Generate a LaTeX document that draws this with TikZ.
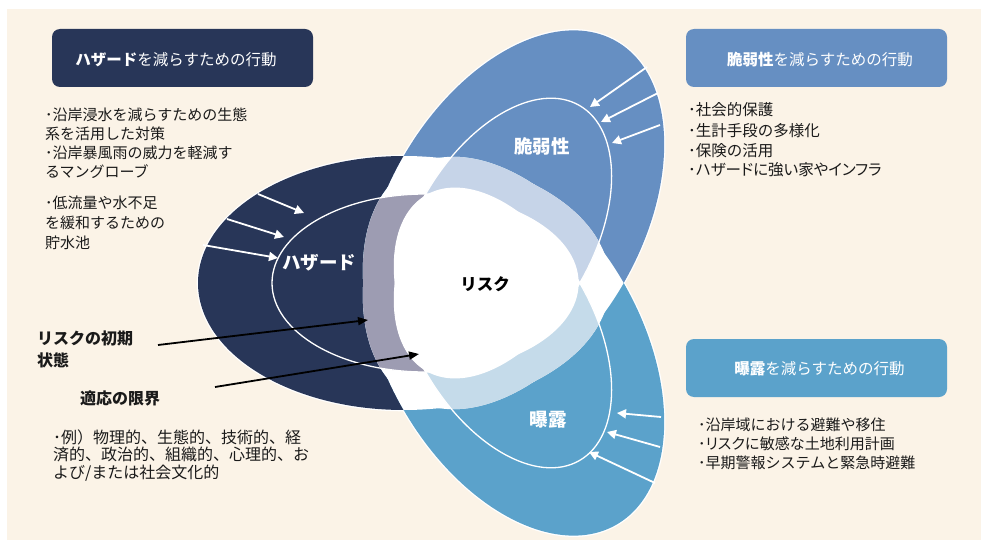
\documentclass[tikz,border=0pt]{standalone}
\usepackage{fontspec}
\setmainfont{Noto Sans CJK JP}
\newfontfamily\jpprop[RawFeature=+palt]{Noto Sans CJK JP}
\usetikzlibrary{arrows.meta}
\definecolor{cream}{HTML}{FBF3E7}
\definecolor{hazc}{HTML}{283658}
\definecolor{vulc}{HTML}{668FC2}
\definecolor{expc}{HTML}{5BA2CB}
\definecolor{hazt}{HTML}{9D9CB2}
\definecolor{vult}{HTML}{C6D4E8}
\definecolor{expt}{HTML}{C5DBEA}
\definecolor{txt}{HTML}{1A1A1A}
\def\Oel{(0,0) ellipse [x radius=206pt, y radius=127pt]}
\def\Iel{(0,0) ellipse [x radius=153pt, y radius=89pt]}
\begin{document}
\begin{tikzpicture}[x=1pt,y=-1pt,
  HO/.style={shift={(404,283)}}, HI/.style={shift={(425,283)}},
  VO/.style={shift={(513.5,219.8)},rotate=60}, VI/.style={shift={(503,238)},rotate=60},
  EO/.style={shift={(513.5,346.2)},rotate=-60}, EI/.style={shift={(503,328)},rotate=-60},
  inline/.style={draw=white, line width=1.3pt},
  halo/.style={fill=white, draw=white, line width=2.6pt},
  warr/.style={draw=white, line width=1.8pt, -{Triangle[length=9pt,width=9pt]}},
  barr/.style={draw=black, line width=1.8pt, -{Triangle[length=10pt,width=8pt]}},
  hbox/.style={rounded corners=8pt, minimum width=261pt, minimum height=58pt, inner sep=0pt},
  htext/.style={text=white, inner sep=0pt, font=\fontsize{15.5}{18}\selectfont, text height=13.6pt, text depth=1.9pt},
  lst/.style={anchor=west, inner sep=0pt, text=txt, font=\fontsize{15}{17}\selectfont, text height=13.2pt, text depth=1.8pt},
  vlst/.style={lst, font=\fontsize{15.5}{17}\selectfont},
  lbl/.style={inner sep=0pt, text=white, font=\fontsize{18.5}{20}\selectfont\bfseries, text height=16.3pt, text depth=2.2pt},
  blbl/.style={anchor=west, inner sep=0pt, text=txt, font=\fontsize{16}{18}\selectfont\bfseries, text height=14.1pt, text depth=1.9pt},
  ex/.style={anchor=west, inner sep=0pt, text=txt, font=\fontsize{16}{17}\selectfont, text height=14.1pt, text depth=1.9pt}
]
\useasboundingbox (0,0) rectangle (981,540);
\fill[white] (0,0) rectangle (981,540);
\fill[cream] (7,9) rectangle (981,540);

% white halo round the petals
\path[halo,HO] \Oel;
\path[halo,VO] \Oel;
\path[halo,EO] \Oel;
% petals
\fill[hazc,HO] \Oel;
\fill[vulc,VO] \Oel;
\fill[expc,EO] \Oel;
% overlaps of outer shapes: white
\begin{scope}\clip[HO] \Oel; \fill[white,VO] \Oel; \fill[white,EO] \Oel;\end{scope}
\begin{scope}\clip[VO] \Oel; \fill[white,EO] \Oel;\end{scope}
% inner shape over another petal: tint
\begin{scope}\clip[HI] \Iel; \fill[hazt,VO] \Oel; \fill[hazt,EO] \Oel;\end{scope}
\begin{scope}\clip[VI] \Iel; \fill[vult,HO] \Oel; \fill[vult,EO] \Oel;\end{scope}
\begin{scope}\clip[EI] \Iel; \fill[expt,HO] \Oel; \fill[expt,VO] \Oel;\end{scope}
% inner over inner: white (risk)
\begin{scope}\clip[HI] \Iel; \fill[white,VI] \Iel; \fill[white,EI] \Iel;\end{scope}
\begin{scope}\clip[VI] \Iel; \fill[white,EI] \Iel;\end{scope}
% inner lines
\path[inline,HI] \Iel;
\path[inline,VI] \Iel;
\path[inline,EI] \Iel;

% petal labels
\node[lbl] (hz) at (319,262) {ハザード};
\node[lbl] (vu) at (542,146) {脆弱性};
\node[lbl] (xp) at (548,419) {曝露};
\node[lbl, text=black, font=\fontsize{16.5}{18}\selectfont\bfseries] (rk) at (485,283) {リスク};

% white arrows
\coordinate (h1s) at (258,194); \coordinate (h1e) at (304,213);
\coordinate (h2s) at (227,219); \coordinate (h2e) at (284,237);
\coordinate (h3s) at (203,245); \coordinate (h3e) at (278,258);
\draw[warr] (h1s) -- (h1e);
\draw[warr] (h2s) -- (h2e);
\draw[warr] (h3s) -- (h3e);
\coordinate (v1s) at (647,67); \coordinate (v1e) at (590,107);
\coordinate (v2s) at (658,93); \coordinate (v2e) at (601,122);
\coordinate (v3s) at (660,125); \coordinate (v3e) at (612,143);
\draw[warr] (v1s) -- (v1e);
\draw[warr] (v2s) -- (v2e);
\draw[warr] (v3s) -- (v3e);
\coordinate (e1s) at (661,417); \coordinate (e1e) at (617,413);
\coordinate (e2s) at (660,447); \coordinate (e2e) at (607,432);
\coordinate (e3s) at (655,483); \coordinate (e3e) at (589,452);
\draw[warr] (e1s) -- (e1e);
\draw[warr] (e2s) -- (e2e);
\draw[warr] (e3s) -- (e3e);

% header boxes
\node[hbox, fill=hazc] (hb) at (182.5,58) {};
\node[htext] (hbt) at (176,60) {\textbf{ハザード}を減らすための行動};
\node[hbox, fill=vulc] (vb) at (816.5,58) {};
\node[htext] (vbt) at (820,60) {\textbf{脆弱性}を減らすための行動};
\node[hbox, fill=expc] (eb) at (816.5,368) {};
\node[htext] (ebt) at (819.5,369) {\textbf{曝露}を減らすための行動};

% hazard list
\node[lst] (hl1) at (45,115) {･沿岸浸水を減らすための生態};
\node[lst] (hl2) at (45,134) {系を活用した対策};
\node[lst] (hl3) at (45,153) {･沿岸暴風雨の威力を軽減す};
\node[lst] (hl4) at (45,172) {るマングローブ};
\node[lst] (hl5) at (45,203) {･低流量や水不足};
\node[lst] (hl6) at (45,223) {を緩和するための};
\node[lst] (hl7) at (45,243) {貯水池};

% vulnerability list
\node[vlst] (vl1) at (688,110) {･社会的保護};
\node[vlst] (vl2) at (688,131) {･生計手段の多様化};
\node[vlst] (vl3) at (688,151) {･保険の活用};
\node[vlst] (vl4) at (688,170) {･{\jpprop ハザードに強い家やインフラ}};

% exposure list
\node[lst] (el1) at (698,425) {･沿岸域における避難や移住};
\node[lst] (el2) at (698,444) {･{\jpprop リスク}に敏感な土地利用計画};
\node[lst] (el3) at (698,463) {･早期警報システムと緊急時避難};

% bottom left
\node[blbl] (ri1) at (37,338) {リスクの初期};
\node[blbl] (ri2) at (37,360) {状態};
\node[blbl] (al) at (80,398) {適応の限界};
\node[ex] (ex1) at (53,437) {･例）物理的、生態的、技術的、経};
\node[ex] (ex2) at (53,454) {済的、政治的、組織的、心理的、お};
\node[ex] (ex3) at (53,472) {よび/または社会文化的};

\coordinate (b1s) at (158,345); \coordinate (b1e) at (368,320);
\coordinate (b2s) at (215,387); \coordinate (b2e) at (419,354);
\draw[barr] (b1s) -- (b1e);
\draw[barr] (b2s) -- (b2e);
\end{tikzpicture}
\end{document}
